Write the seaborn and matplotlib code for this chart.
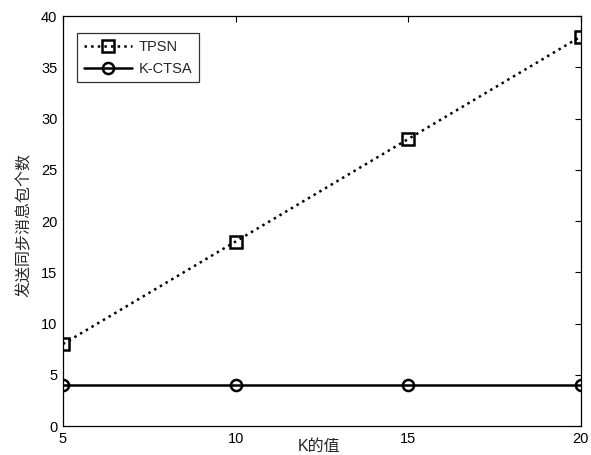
import matplotlib
matplotlib.use('Agg')
import matplotlib.pyplot as plt
import seaborn as sns
import pandas as pd

# data
k_values = [5, 10, 15, 20]
tpsn = [8, 18, 28, 38]
kctsa = [4, 4, 4, 4]
y_ticks = [0, 5, 10, 15, 20, 25, 30, 35, 40]

df = pd.DataFrame({
    'K': k_values * 2,
    'count': tpsn + kctsa,
    'method': ['TPSN'] * 4 + ['K-CTSA'] * 4,
})

sns.set_style('white')
plt.rcParams['font.family'] = ['Liberation Sans', 'Noto Sans CJK SC', 'DejaVu Sans']

fig = plt.figure(figsize=(5.91, 4.55), dpi=100)
ax = fig.add_axes([0.1066, 0.0637, 0.876, 0.901])

styles = {'TPSN': (':', 's'), 'K-CTSA': ('-', 'o')}
for name in ['TPSN', 'K-CTSA']:
    ls, mk = styles[name]
    sub = df[df['method'] == name]
    sns.lineplot(data=sub, x='K', y='count', ax=ax, color='black',
                 linestyle=ls, linewidth=1.8, marker=mk, markersize=8,
                 markerfacecolor='none', markeredgecolor='black',
                 markeredgewidth=1.8, label=name)

ax.set_xlim(5, 20)
ax.set_ylim(0, 40)
ax.set_xticks(k_values)
ax.set_yticks(y_ticks)
ax.tick_params(direction='in', top=True, right=True, labelsize=10.5,
               length=4, width=0.8, colors='black', pad=4)
for sp in ax.spines.values():
    sp.set_color('black')
    sp.set_linewidth(0.9)

ax.set_xlabel('K的值', fontsize=11.5)
ax.xaxis.set_label_coords(0.495, -0.032)
ax.set_ylabel('发送同步消息包个数', fontsize=11.5)
ax.yaxis.set_label_coords(-0.06, 0.49)

leg = ax.legend(loc='upper left', fontsize=10.5, frameon=True, fancybox=False,
                edgecolor='black', borderpad=0.45, handlelength=3.3,
                handletextpad=0.5, labelspacing=0.55, borderaxespad=0,
                bbox_to_anchor=(0.027, 0.958))
leg.get_frame().set_linewidth(0.9)

plt.savefig('out.png', dpi=100)
